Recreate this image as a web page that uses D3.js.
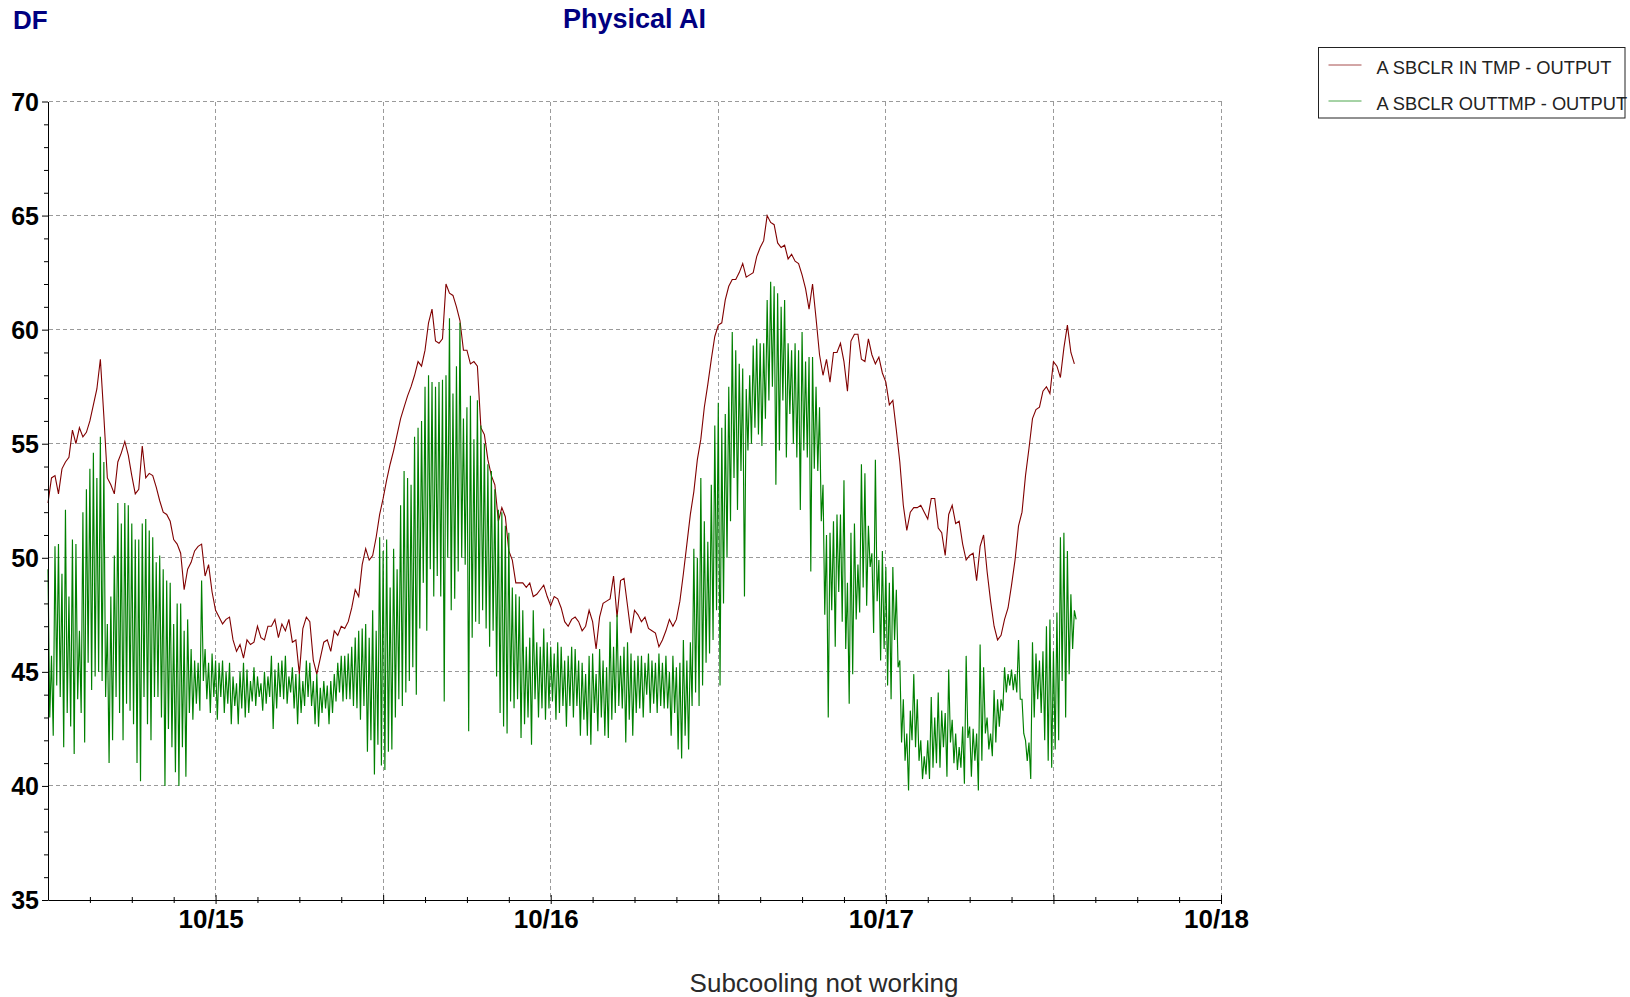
<!DOCTYPE html>
<html>
<head>
<meta charset="utf-8">
<title>Physical AI</title>
<script src="https://cdn.jsdelivr.net/npm/d3@7"></script>
<style>
  html, body { margin: 0; padding: 0; background: #fff; overflow: hidden; }
  svg { display: block; }
  text { font-family: "Liberation Sans", Arial, Helvetica, sans-serif; }
</style>
</head>
<body>
<svg id="chart" width="1630" height="997"></svg>
<script>
// ---- data ---------------------------------------------------------------
const seriesNames = ["A SBCLR IN TMP - OUTPUT", "A SBCLR OUTTMP - OUTPUT"];
const dayLabels = ["10/15", "10/16", "10/17", "10/18"];
const yTickValues = [35, 40, 45, 50, 55, 60, 65, 70];

// logging starts 10/14 12:00; inlet sampled every 15 min
const inTmpStepMinutes = 15;
const inTmp = [
  52.4, 53.5, 53.6, 52.8, 53.9, 54.2, 54.4, 55.6, 55.0, 55.7,
  55.3, 55.5, 56.0, 56.7, 57.4, 58.7, 56.2, 53.5, 53.2, 52.8,
  54.2, 54.6, 55.1, 54.5, 53.6, 52.8, 53.0, 54.9, 53.5, 53.7,
  53.6, 53.1, 52.5, 52.0, 51.9, 51.6, 50.8, 50.6, 50.2, 48.6,
  49.5, 49.8, 50.3, 50.5, 50.6, 49.2, 49.7, 48.5, 47.7, 47.4,
  47.1, 47.3, 47.4, 46.4, 45.9, 46.2, 45.6, 46.4, 46.2, 46.3,
  47.0, 46.5, 46.4, 47.0, 47.0, 47.3, 46.5, 47.1, 46.8, 47.3,
  46.3, 46.4, 44.9, 46.9, 47.4, 47.2, 45.5, 44.9, 45.6, 46.3,
  46.4, 45.9, 46.8, 46.6, 47.0, 46.9, 47.2, 47.8, 48.6, 48.3,
  49.7, 50.4, 49.9, 50.1, 50.9, 51.9, 52.6, 53.4, 54.1, 54.7,
  55.4, 56.1, 56.6, 57.1, 57.5, 58.0, 58.6, 58.4, 59.1, 60.3,
  60.9, 59.5, 59.4, 59.6, 62.0, 61.6, 61.5, 61.0, 60.4, 59.1,
  59.1, 58.5, 58.6, 58.4, 55.7, 55.4, 54.3, 53.6, 53.2, 51.6,
  52.2, 51.8, 50.3, 49.9, 48.9, 48.9, 48.9, 48.7, 48.9, 48.3,
  48.4, 48.6, 48.8, 48.3, 47.9, 48.3, 48.2, 47.8, 47.2, 47.0,
  47.3, 47.4, 47.2, 46.8, 47.0, 47.7, 47.2, 46.0, 47.4, 48.0,
  48.1, 48.2, 49.2, 47.4, 49.0, 49.1, 47.9, 46.7, 47.7, 47.5,
  47.2, 47.4, 46.9, 46.8, 46.7, 46.1, 46.4, 46.8, 47.3, 47.0,
  47.3, 48.1, 49.3, 50.6, 51.9, 52.9, 54.3, 55.2, 56.6, 57.6,
  58.7, 59.7, 60.2, 60.3, 61.3, 61.9, 62.2, 62.2, 62.5, 62.9,
  62.3, 62.4, 62.5, 63.2, 63.6, 63.9, 65.0, 64.7, 64.6, 63.8,
  63.6, 63.7, 63.1, 63.3, 63.0, 62.9, 62.4, 61.8, 60.9, 62.0,
  60.5, 58.9, 58.0, 58.7, 57.7, 59.0, 59.0, 59.4, 58.6, 57.3,
  59.5, 59.8, 59.8, 58.7, 58.6, 59.6, 58.9, 58.5, 58.8, 58.1,
  57.7, 56.7, 56.9, 55.6, 54.2, 52.3, 51.2, 52.0, 52.2, 52.2,
  52.3, 52.0, 51.7, 52.6, 52.6, 51.3, 51.1, 50.1, 51.9, 52.3,
  51.5, 51.6, 50.6, 49.9, 50.1, 50.2, 49.0, 50.5, 51.0, 49.4,
  48.1, 47.0, 46.4, 46.6, 47.3, 47.8, 48.8, 49.9, 51.4, 52.0,
  53.6, 54.8, 56.1, 56.5, 56.6, 57.3, 57.5, 57.2, 58.6, 58.4,
  57.9, 59.2, 60.2, 59.0, 58.5
];

// outlet sampled every 7.5 min (it cycles hard, so readings swing high/low)
const outTmpStepMinutes = 7.5;
const outTmp = [
  49.5,43.0, 45.7,42.2, 50.5,44.4, 50.6,43.9, 49.3,41.7, 52.1,43.2, 48.3,42.6, 50.8,41.4, 50.6,43.8, 46.8,43.2,
  52.0,41.9, 53.0,45.4, 53.9,44.2, 54.6,44.8, 53.5,45.0, 55.3,44.6, 54.2,43.9, 47.1,41.0, 48.3,42.0, 50.1,43.9,
  52.4,43.2, 51.5,42.0, 52.4,43.6, 52.3,43.3, 51.5,42.7, 50.8,41.0, 50.8,40.2, 51.5,43.9, 51.7,42.7, 51.2,42.0,
  50.9,43.9, 49.8,43.9, 50.1,43.0, 49.5,40.0, 49.0,42.5, 48.9,41.7, 47.1,40.6, 48.0,40.0, 48.0,41.7, 46.8,40.4,
  47.3,43.2, 46.0,42.9, 45.5,43.6, 45.4,43.3, 49.0,44.6, 46.0,43.8, 45.4,43.2, 45.8,43.9, 45.5,42.9, 45.4,43.9,
  45.5,43.2, 45.0,43.6, 45.4,42.7, 44.8,43.5, 44.5,42.7, 45.0,43.4, 45.4,43.0, 45.1,43.2, 44.6,43.7, 45.2,43.5,
  44.8,43.9, 44.5,43.3, 45.0,43.6, 44.8,43.9, 45.7,42.5, 45.1,43.4, 45.4,43.9, 45.5,43.8, 45.7,43.6, 44.8,44.1,
  45.2,43.4, 44.9,42.7, 44.9,43.2, 44.6,43.5, 45.5,43.9, 45.4,43.5, 44.6,42.7, 44.9,42.6, 44.3,43.2, 44.6,43.4,
  44.4,42.7, 44.6,43.2, 44.9,43.7, 45.4,44.1, 45.7,43.7, 45.7,43.8, 45.8,43.8, 46.1,43.5, 46.5,43.4, 46.8,42.9,
  46.9,43.5, 47.1,41.5, 46.5,42.0, 47.7,40.5, 46.8,41.8, 50.9,40.9, 50.3,40.7, 50.8,41.5, 48.7,41.6, 50.4,43.0,
  49.5,43.8, 52.3,43.5, 53.8,44.1, 53.5,44.6, 53.2,45.2, 55.3,44.0, 55.7,46.9, 56.0,48.9, 57.5,46.8, 58.0,49.5,
  57.7,48.3, 57.5,49.2, 57.7,48.3, 57.8,43.7, 58.0,50.0, 60.5,47.7, 57.2,48.2, 58.4,49.4, 60.3,50.0, 56.1,49.7,
  56.6,42.4, 57.1,46.5, 55.2,47.2, 56.9,47.1, 55.8,47.7, 55.0,46.9, 54.1,46.1, 53.8,46.8, 53.0,44.8, 52.1,43.2,
  52.0,42.6, 51.4,42.3, 51.1,43.7, 48.7,43.4, 48.4,43.8, 48.3,42.1, 47.7,42.7, 46.1,43.0, 46.5,41.8, 47.7,43.8,
  46.3,43.0, 46.1,43.4, 46.9,42.9, 46.3,43.4, 46.1,43.7, 45.8,42.9, 46.3,43.2, 46.1,43.5, 45.5,42.6, 45.7,43.5,
  46.1,43.0, 46.0,43.5, 45.5,42.2, 45.4,42.9, 44.9,42.2, 45.7,41.8, 45.8,43.2, 44.9,42.4, 46.0,43.0, 45.5,42.2,
  45.2,42.1, 47.2,42.9, 46.1,43.2, 47.5,43.5, 45.7,43.4, 46.1,41.9, 46.3,42.9, 45.8,42.2, 45.5,43.2, 45.7,43.4,
  45.7,43.0, 45.4,44.0, 45.8,43.2, 45.5,43.6, 45.4,43.2, 45.8,43.5, 45.4,43.4, 45.7,43.4, 45.0,42.2, 45.7,43.2,
  45.2,41.6, 45.4,41.2, 46.4,42.2, 45.5,41.6, 46.3,43.5, 50.4,44.1, 50.0,43.5, 53.5,44.4, 51.6,45.4, 50.7,45.8,
  53.2,46.4, 55.8,47.7, 56.8,44.4, 55.7,48.0, 56.3,50.0, 57.5,51.6, 59.9,53.5, 59.1,52.1, 58.5,53.8, 58.3,48.3,
  57.4,54.7, 58.0,55.0, 59.3,55.7, 59.6,55.4, 59.4,54.9, 59.4,56.1, 61.3,56.9, 62.1,57.5, 61.9,53.2, 61.6,54.7,
  61.0,56.9, 61.3,54.4, 59.4,56.3, 59.1,55.0, 59.4,54.4, 59.1,52.1, 59.9,54.7, 58.6,54.4, 58.8,49.4, 58.8,53.9,
  57.5,53.8, 56.6,51.6, 53.2,47.5, 51.0,43.0, 51.1,47.7, 51.6,46.1, 51.9,48.5, 51.9,47.2, 53.4,46.0, 48.9,43.6,
  51.1,44.9, 51.5,47.3, 49.7,47.6, 54.1,48.7, 53.7,47.9, 51.4,49.6, 50.2,46.7, 54.3,48.1, 49.9,45.5, 50.3,46.0,
  49.6,44.4, 48.9,43.8, 49.6,46.4, 48.6,45.2, 45.5,41.9, 43.8,41.1, 42.3,39.8, 43.3,42.0, 44.9,41.7, 43.8,41.1,
  42.0,40.3, 41.3,40.5, 42.0,40.3, 43.9,40.8, 43.0,41.0, 44.1,40.8, 43.3,41.7, 43.2,40.4, 45.1,41.9, 42.9,41.0,
  42.3,40.7, 41.7,40.8, 42.6,40.1, 45.7,42.1, 42.6,40.4, 42.5,41.1, 42.3,39.8, 46.2,41.1, 45.2,42.3, 43.0,41.6,
  42.3,41.3, 44.2,41.9, 43.8,42.6, 43.8,43.3, 45.2,44.1, 44.9,44.4, 45.1,44.2, 44.9,44.1, 46.4,43.8, 43.8,42.3,
  42.0,41.1, 41.9,40.3, 46.3,43.0, 45.8,43.8, 45.5,43.2, 45.9,42.0, 47.0,41.1, 47.3,40.8, 45.9,41.6, 47.6,42.0,
  50.9,44.6, 51.1,43.0, 50.3,44.9, 48.4,46.0, 47.7,47.3
];

// ---- layout -------------------------------------------------------------
const startTime = new Date(2024, 9, 14, 12, 0);
const endTime = new Date(2024, 9, 18, 0, 0);
const plot = { left: 48, right: 1221, top: 101.5, bottom: 900 };
const colors = { inTmp: "#800000", outTmp: "#008000", title: "#000080", grid: "#9a9a9a" };

const svg = d3.select("#chart");
const x = d3.scaleTime().domain([startTime, endTime]).range([plot.left, plot.right]);
const y = d3.scaleLinear().domain([35, 70]).range([plot.bottom, plot.top]);
const crisp = v => Math.floor(v) + 0.5;

const toSeries = (vals, stepMin) =>
  vals.map((v, i) => ({ t: new Date(+startTime + i * stepMin * 60000), v }));

// ---- grid ---------------------------------------------------------------
const grid = svg.append("g")
  .attr("stroke", colors.grid).attr("stroke-width", 1)
  .attr("stroke-dasharray", "4,3").attr("shape-rendering", "crispEdges");

grid.selectAll("line.h").data(yTickValues.filter(v => v > 35)).join("line")
  .attr("class", "h")
  .attr("x1", plot.left + 1).attr("x2", plot.right + 1)
  .attr("y1", d => crisp(y(d))).attr("y2", d => crisp(y(d)));

const halfDays = d3.timeHour.every(12).range(new Date(2024, 9, 15), d3.timeHour.offset(endTime, 1));
grid.selectAll("line.v").data(halfDays).join("line")
  .attr("class", "v")
  .attr("x1", d => crisp(x(d))).attr("x2", d => crisp(x(d)))
  .attr("y1", plot.top).attr("y2", plot.bottom);

// ---- series -------------------------------------------------------------
const line = d3.line().x(d => x(d.t)).y(d => y(d.v));

svg.append("path")
  .datum(toSeries(inTmp, inTmpStepMinutes))
  .attr("fill", "none").attr("stroke", colors.inTmp).attr("stroke-width", 1.1)
  .attr("d", line);

svg.append("path")
  .datum(toSeries(outTmp, outTmpStepMinutes))
  .attr("fill", "none").attr("stroke", colors.outTmp).attr("stroke-width", 1.15)
  .attr("d", line);

// ---- axes ---------------------------------------------------------------
const yAxisG = svg.append("g").attr("transform", `translate(${plot.left},0)`)
  .call(d3.axisLeft(y).tickValues(yTickValues).tickSize(6).tickPadding(3).tickSizeOuter(0));
yAxisG.select(".domain").attr("stroke", "#000");
yAxisG.selectAll(".tick line").attr("stroke", "#000");
yAxisG.selectAll(".tick text")
  .attr("font-family", "'Liberation Sans', Arial, sans-serif")
  .attr("font-size", 25).attr("font-weight", "bold").attr("fill", "#000")
  .attr("dy", "0.34em");

// minor value ticks, one per degree
const minorY = d3.range(35, 71).filter(v => v % 5 !== 0);
svg.append("g").attr("transform", `translate(${plot.left},0)`)
  .call(d3.axisLeft(y).tickValues(minorY).tickSize(4).tickFormat(""))
  .call(g => g.select(".domain").remove())
  .selectAll(".tick line").attr("stroke", "#000");

// time axis: 3-hour minor ticks, 12-hour major ticks crossing the baseline
const threeHours = d3.timeHour.every(3).range(d3.timeHour.offset(startTime, 3), d3.timeHour.offset(endTime, 1))
  .filter(d => d.getHours() % 12 !== 0);

const xMinor = svg.append("g").attr("transform", `translate(0,${plot.bottom})`)
  .call(d3.axisBottom(x).tickValues(threeHours).tickSize(3).tickFormat("").tickSizeOuter(0));
xMinor.select(".domain").attr("stroke", "#000");
xMinor.selectAll(".tick line").attr("stroke", "#000").attr("y1", -3);

const xMajor = svg.append("g").attr("transform", `translate(0,${plot.bottom})`)
  .call(d3.axisBottom(x).tickValues(halfDays).tickSize(4).tickFormat("").tickSizeOuter(0))
  .call(g => g.select(".domain").remove());
xMajor.selectAll(".tick line").attr("stroke", "#000").attr("y1", -5);

const dayTicks = dayLabels.map((_, i) => new Date(2024, 9, 15 + i));
const xLabels = svg.append("g").attr("transform", `translate(0,${plot.bottom})`)
  .call(d3.axisBottom(x).tickValues(dayTicks).tickSize(0)
    .tickFormat((d, i) => dayLabels[i]))
  .call(g => g.select(".domain").remove());
xLabels.selectAll(".tick text")
  .attr("font-family", "'Liberation Sans', Arial, sans-serif")
  .attr("font-size", 26).attr("font-weight", "bold").attr("fill", "#000")
  .attr("x", -5).attr("y", 28).attr("dy", 0);

// ---- titles -------------------------------------------------------------
svg.append("text").attr("x", 13).attr("y", 29)
  .attr("font-size", 26).attr("font-weight", "bold").attr("fill", colors.title)
  .text("DF");

svg.append("text").attr("x", (plot.left + plot.right) / 2).attr("y", 28)
  .attr("text-anchor", "middle")
  .attr("font-size", 27).attr("font-weight", "bold").attr("fill", colors.title)
  .text("Physical AI");

svg.append("text").attr("x", 824).attr("y", 992)
  .attr("text-anchor", "middle")
  .attr("font-size", 26).attr("fill", "#2a2a2a")
  .text("Subcooling not working");

// ---- legend -------------------------------------------------------------
const legend = svg.append("g").attr("transform", "translate(1318.5,47.5)");
legend.append("rect").attr("width", 306.5).attr("height", 70.5)
  .attr("fill", "#fff").attr("stroke", "#222").attr("stroke-width", 1);

const legendColors = [colors.inTmp, colors.outTmp];
const legendRows = legend.selectAll("g.row").data(seriesNames).join("g")
  .attr("class", "row")
  .attr("transform", (d, i) => `translate(0,${17.5 + i * 36})`);
legendRows.append("line")
  .attr("x1", 10).attr("x2", 43).attr("y1", 0).attr("y2", 0)
  .attr("stroke", (d, i) => legendColors[i]).attr("stroke-opacity", 0.7).attr("stroke-width", 1);
legendRows.append("text")
  .attr("x", 58).attr("y", 9)
  .attr("font-size", 18.3).attr("fill", "#222")
  .text(d => d);
</script>
</body>
</html>
